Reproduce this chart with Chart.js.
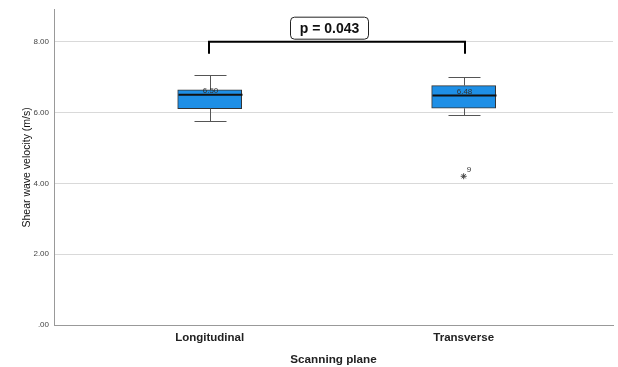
<!DOCTYPE html>
<html>
<head>
<meta charset="utf-8">
<script src="https://cdn.jsdelivr.net/npm/chart.js@4/dist/chart.umd.min.js"></script>
<style>
html,body{margin:0;padding:0;background:#fff;}
#wrap{width:618px;height:367px;position:relative;}
</style>
</head>
<body>
<div id="wrap"><canvas id="c" width="618" height="367"></canvas></div>
<script>
// ---- data ----
const categories = ['Longitudinal', 'Transverse'];
const categoryPos = [1, 2];
const whiskerLow = [5.75, 5.92];
const q1 = [6.11, 6.12];
const median = [6.50, 6.48];
const q3 = [6.64, 6.76];
const whiskerHigh = [7.06, 6.99];
const medianLabels = ['6.50', '6.48'];
const outlierCat = [2];
const outlierVal = [4.2];
const outlierLabels = ['9'];
const yTicks = [0, 2, 4, 6, 8];
const yTickLabels = ['.00', '2.00', '4.00', '6.00', '8.00'];
const pText = 'p = 0.043';
const bracketTop = 8.0;
const bracketBottom = 7.66;

const FONT = "'Liberation Sans', Arial, sans-serif";

const boxPlugin = {
  id: 'boxExtras',
  afterDatasetsDraw(chart) {
    const ctx = chart.ctx;
    const xs = chart.scales.x, ys = chart.scales.y;
    ctx.save();
    for (let i = 0; i < categories.length; i++) {
      const cx = Math.round(xs.getPixelForValue(categoryPos[i])) + 0.5;
      const yLo = Math.round(ys.getPixelForValue(whiskerLow[i])) + 0.5;
      const yHi = Math.round(ys.getPixelForValue(whiskerHigh[i])) + 0.5;
      const yQ1 = ys.getPixelForValue(q1[i]);
      const yQ3 = ys.getPixelForValue(q3[i]);
      ctx.strokeStyle = '#555';
      ctx.lineWidth = 1;
      ctx.beginPath();
      ctx.moveTo(cx, yHi); ctx.lineTo(cx, yQ3);
      ctx.moveTo(cx, yQ1); ctx.lineTo(cx, yLo);
      ctx.moveTo(cx - 16, yHi); ctx.lineTo(cx + 16, yHi);
      ctx.moveTo(cx - 16, yLo); ctx.lineTo(cx + 16, yLo);
      ctx.stroke();
      const ym = ys.getPixelForValue(median[i]);
      ctx.strokeStyle = '#111';
      ctx.lineWidth = 2;
      ctx.beginPath();
      ctx.moveTo(cx - 32, ym); ctx.lineTo(cx + 32, ym);
      ctx.stroke();
      ctx.fillStyle = '#333';
      ctx.font = '8px ' + FONT;
      ctx.textAlign = 'center';
      ctx.textBaseline = 'bottom';
      ctx.fillText(medianLabels[i], cx, ym);
    }
    for (let i = 0; i < outlierCat.length; i++) {
      const px = xs.getPixelForValue(outlierCat[i]);
      const py = ys.getPixelForValue(outlierVal[i]);
      ctx.fillStyle = '#333';
      ctx.font = '8px ' + FONT;
      ctx.textAlign = 'left';
      ctx.textBaseline = 'middle';
      ctx.fillText(outlierLabels[i], px + 3, py - 6);
    }
    const bx1 = Math.round(xs.getPixelForValue(categoryPos[0])) - 1;
    const bx2 = Math.round(xs.getPixelForValue(categoryPos[1])) + 1;
    const by = ys.getPixelForValue(bracketTop);
    const byb = ys.getPixelForValue(bracketBottom);
    ctx.strokeStyle = '#000';
    ctx.lineWidth = 2;
    ctx.beginPath();
    ctx.moveTo(bx1, byb); ctx.lineTo(bx1, by); ctx.lineTo(bx2, by); ctx.lineTo(bx2, byb);
    ctx.stroke();
    const cxm = (bx1 + bx2) / 2;
    const w = 78, h = 22;
    const left = cxm - w / 2 - 8, top = by - h - 3;
    ctx.fillStyle = '#fff';
    ctx.strokeStyle = '#222';
    ctx.lineWidth = 1;
    ctx.beginPath();
    ctx.roundRect(left + 0.5, top + 0.5, w, h, 4);
    ctx.fill();
    ctx.stroke();
    ctx.fillStyle = '#111';
    ctx.font = 'bold 14px ' + FONT;
    ctx.textAlign = 'center';
    ctx.textBaseline = 'middle';
    ctx.fillText(pText, left + w / 2 + 0.5, top + h / 2 + 1);
    ctx.restore();
  }
};

const boxData = categories.map((c, i) => ({ x: categoryPos[i], y: [q1[i], q3[i]] }));
const outlierData = outlierCat.map((c, i) => ({ x: c, y: outlierVal[i] }));

new Chart(document.getElementById('c'), {
  type: 'bar',
  data: {
    datasets: [
      {
        type: 'bar',
        data: boxData,
        backgroundColor: '#1E8FE6',
        borderColor: '#333',
        borderWidth: 1,
        borderSkipped: false,
        barThickness: 64,
        order: 2
      },
      {
        type: 'scatter',
        data: outlierData,
        pointStyle: 'star',
        radius: 3,
        borderColor: '#444',
        backgroundColor: 'rgba(0,0,0,0)',
        borderWidth: 1,
        order: 1
      }
    ]
  },
  options: {
    responsive: false,
    animation: false,
    layout: { padding: { top: 9, right: 1, left: 0, bottom: 0 } },
    plugins: { legend: { display: false }, tooltip: { enabled: false } },
    scales: {
      x: {
        type: 'linear',
        offset: false,
        min: 0.387,
        max: 2.588,
        afterBuildTicks(axis) { axis.ticks = categoryPos.map(v => ({ value: v })); },
        afterFit(axis) { axis.height = 42; axis.paddingLeft = 0; axis.paddingRight = 0; },
        ticks: {
          callback: (v) => { const i = categoryPos.indexOf(v); return i >= 0 ? categories[i] : ''; },
          font: { family: FONT, size: 11.5, weight: 'bold' },
          color: '#222',
          padding: 6,
          maxRotation: 0
        },
        grid: { display: false, drawTicks: false, offset: false },
        border: { color: '#999', width: 1 },
        title: {
          display: true,
          text: 'Scanning plane',
          font: { family: FONT, size: 11.7, weight: 'bold' },
          color: '#222',
          padding: { top: 9, bottom: 0 }
        }
      },
      y: {
        min: 0,
        max: 8.9,
        afterBuildTicks(axis) { axis.ticks = yTicks.map(v => ({ value: v })); },
        afterFit(axis) { axis.width = 54; },
        ticks: {
          callback: (v) => { const i = yTicks.indexOf(v); return i >= 0 ? yTickLabels[i] : ''; },
          font: { family: FONT, size: 8 },
          color: '#444',
          padding: 5
        },
        grid: { color: '#d9d9d9', lineWidth: 1, drawTicks: false },
        border: { color: '#999', width: 1 },
        title: {
          display: true,
          text: 'Shear wave velocity (m/s)',
          font: { family: FONT, size: 10.5 },
          color: '#111',
          padding: { top: 21, bottom: 0 }
        }
      }
    }
  },
  plugins: [boxPlugin]
});
</script>
</body>
</html>
